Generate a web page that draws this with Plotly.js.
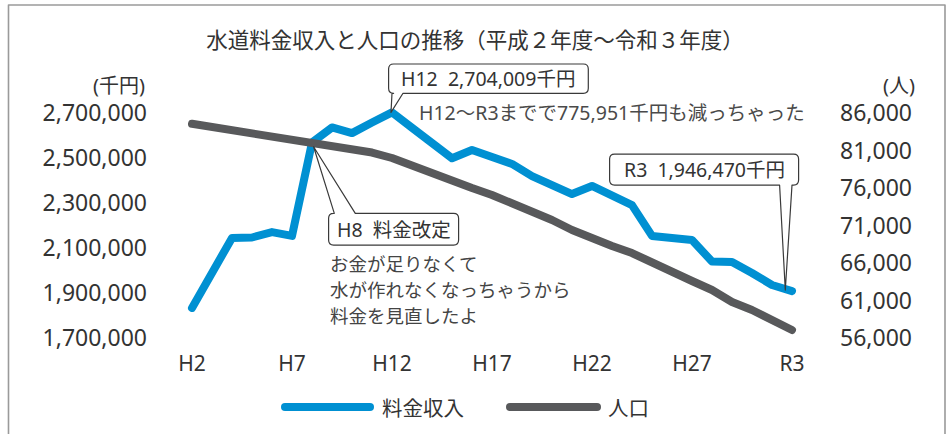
<!DOCTYPE html>
<html><head><meta charset="utf-8">
<script src="https://cdn.plot.ly/plotly-3.0.1.min.js"></script>
<style>
html,body{margin:0;padding:0;background:#fff;}
#chart{width:952px;height:434px;}
.js-line{stroke-linecap:round !important;stroke-linejoin:round !important;}
.shapelayer path{stroke-linecap:round;stroke-linejoin:round;}
</style></head><body><div id="chart"></div>
<script>
// ---- data ----
const tickLabels = ['H2','H7','H12','H17','H22','H27','R3'];
const tickIndex  = [0,5,10,15,20,25,30];
const revenue = [1835000,1990000,2146000,2148000,2172000,2155000,2570000,2637000,2612000,2659000,
                 2704009,2636000,2568000,2500000,2537000,2506000,2475000,2421000,2381000,2341000,
                 2377000,2337000,2292000,2155000,2146000,2137000,2041000,2039000,1990000,1937000,1910000];
const population = [84600,84170,83640,83240,82840,82440,82040,81640,81240,80770,
                    80040,78970,78040,77110,76040,75110,74040,72970,71770,70440,
                    69240,68310,67370,66040,64970,63640,62440,60840,59770,58440,57110];
const leftTicks  = [1700000,1900000,2100000,2300000,2500000,2700000];
const rightTicks = [56000,61000,66000,71000,76000,81000,86000];
const seriesNames = ['料金収入','人口'];
const idx = revenue.map((_, i) => i);

// ---- layout helpers ----
const W=952, H=434;
const M={l:172, r:140, t:50, b:87};
const PW=W-M.l-M.r, PH=H-M.t-M.b;
const px = x => (x-M.l)/PW;
const py = y => 1-(y-M.t)/PH;
const LAT = '"Noto Sans", "Noto Sans CJK JP", sans-serif';
const JP  = '"Noto Sans CJK JP", "Noto Sans", sans-serif';
const BLUE = '#0090D2', GRAY = '#58595B', TXT = '#333333';
const SP = '\u00A0\u00A0';

// speech bubble path (screen offsets, y down) relative to anchor
function bubblePath(b){
  const [x0,y0,x1,y1]=b.box, r=b.r||5, [tx,ty]=b.tip, [bx0,bx1]=b.base;
  const P=(x,y)=>x.toFixed(1)+','+(-y).toFixed(1);
  let d='M '+P(x0+r,y0)+' ';
  if(b.side==='top'){ d+='L '+P(bx0,y0)+' L '+P(tx,ty)+' L '+P(bx1,y0)+' '; }
  d+='L '+P(x1-r,y0)+' Q '+P(x1,y0)+' '+P(x1,y0+r)+' L '+P(x1,y1-r)+' Q '+P(x1,y1)+' '+P(x1-r,y1)+' ';
  if(b.side==='bottom'){ d+='L '+P(bx1,y1)+' L '+P(tx,ty)+' L '+P(bx0,y1)+' '; }
  d+='L '+P(x0+r,y1)+' Q '+P(x0,y1)+' '+P(x0,y1-r)+' L '+P(x0,y0+r)+' Q '+P(x0,y0)+' '+P(x0+r,y0)+' Z';
  return d;
}
const callouts = [
  {i:10, text:'H12'+SP+'2,704,009千円', box:[-3.4,-48.4,196.3,-19.1], tip:[-1,0], base:[0,11], side:'bottom'},
  {i:6,  text:'H8'+SP+'料金改定',        box:[16.6,70.8,146.6,102.5], tip:[1.6,4.2], base:[22.3,43.3], side:'top'},
  {i:30, text:'R3'+SP+'1,946,470千円',  box:[-182.4,-137,6.6,-106], tip:[-6.7,-1], base:[-12.4,0], side:'bottom'}
];

const shapes=[], annotations=[];
callouts.forEach(c=>{
  shapes.push({type:'path', xref:'x', yref:'y', xsizemode:'pixel', ysizemode:'pixel',
    xanchor:c.i, yanchor:revenue[c.i], path:bubblePath(c), fillcolor:'#ffffff',
    line:{color:'#3a3a3a', width:1.2}, layer:'above'});
  annotations.push({xref:'x', yref:'y', x:c.i, y:revenue[c.i], showarrow:false,
    xshift:(c.box[0]+c.box[2])/2, yshift:-(c.box[1]+c.box[3])/2,
    xanchor:'center', yanchor:'middle', text:c.text, font:{family:LAT, size:19.5, color:TXT}});
});

// frame
shapes.push({type:'rect', xref:'paper', yref:'paper', x0:px(8.5), x1:px(945), y0:py(5), y1:py(445),
  line:{color:'#9a9a9a', width:1.6}, fillcolor:'rgba(0,0,0,0)', layer:'below'});
// manual legend
const legendItems=[{c:BLUE, x0:285, x1:370, tx:380, name:seriesNames[0]},{c:GRAY, x0:510, x1:597, tx:606, name:seriesNames[1]}];
legendItems.forEach(li=>{
  shapes.push({type:'line', xref:'paper', yref:'paper', x0:px(li.x0), x1:px(li.x1), y0:py(407), y1:py(407),
    line:{color:li.c, width:8}});
  annotations.push({xref:'paper', yref:'paper', x:px(li.tx), y:py(407), xanchor:'left', yanchor:'middle',
    showarrow:false, text:li.name, font:{family:JP, size:20.5, color:TXT}});
});

// unit labels
annotations.push({xref:'paper', yref:'paper', x:px(147), y:py(85), xanchor:'right', yanchor:'middle', showarrow:false,
  text:'(千円)', font:{family:LAT, size:20, color:TXT}});
annotations.push({xref:'paper', yref:'paper', x:px(917), y:py(85), xanchor:'right', yanchor:'middle', showarrow:false,
  text:'(人)', font:{family:LAT, size:20, color:TXT}});
// comments
annotations.push({xref:'paper', yref:'paper', x:px(417), y:py(112.5), xanchor:'left', yanchor:'middle', showarrow:false,
  text:'H12～R3までで775,951千円も減っちゃった', font:{family:LAT, size:19.5, color:'#4a4a4a'}});
const noteLines=['お金が足りなくて','水が作れなくなっちゃうから','料金を見直したよ'];
const noteY=[263.5,289.5,315.5];
noteLines.forEach((t,k)=>annotations.push({xref:'paper', yref:'paper', x:px(328), y:py(noteY[k]), xanchor:'left', yanchor:'middle',
  showarrow:false, text:t, font:{family:LAT, size:18.5, color:'#444444'}}));

const traces=[
  {x:idx, y:revenue, type:'scatter', mode:'lines', name:seriesNames[0], yaxis:'y', line:{color:BLUE, width:8}},
  {x:idx, y:population, type:'scatter', mode:'lines', name:seriesNames[1], yaxis:'y2', line:{color:GRAY, width:8}}
];

const layout={
  width:W, height:H, margin:M, showlegend:false, paper_bgcolor:'#fff', plot_bgcolor:'rgba(0,0,0,0)',
  title:{text:'水道料金収入と人口の推移（平成２年度～令和３年度）', xref:'container', yref:'container',
    x:475/W, y:1-40/H, xanchor:'center', yanchor:'middle', font:{family:JP, size:21.5, color:TXT}},
  xaxis:{range:[-1,31], tickvals:tickIndex, ticktext:tickLabels, showgrid:false, zeroline:false, showline:false,
    ticks:'', tickfont:{family:LAT, size:21, color:TXT}, ticklabelstandoff:2, fixedrange:true},
  yaxis:{range:[1661333,2981333.33], tickvals:leftTicks, tickformat:',', showgrid:false, zeroline:false, showline:false,
    ticks:'', tickfont:{family:LAT, size:23, color:TXT}, ticklabelstandoff:24, fixedrange:true},
  yaxis2:{range:[54840,94440], overlaying:'y', side:'right', tickvals:rightTicks, tickformat:',', showgrid:false,
    zeroline:false, showline:false, ticks:'', tickfont:{family:LAT, size:23, color:TXT}, ticklabelstandoff:27, fixedrange:true},
  shapes:shapes, annotations:annotations
};
Plotly.newPlot('chart', traces, layout, {displayModeBar:false, staticPlot:true});
</script></body></html>
